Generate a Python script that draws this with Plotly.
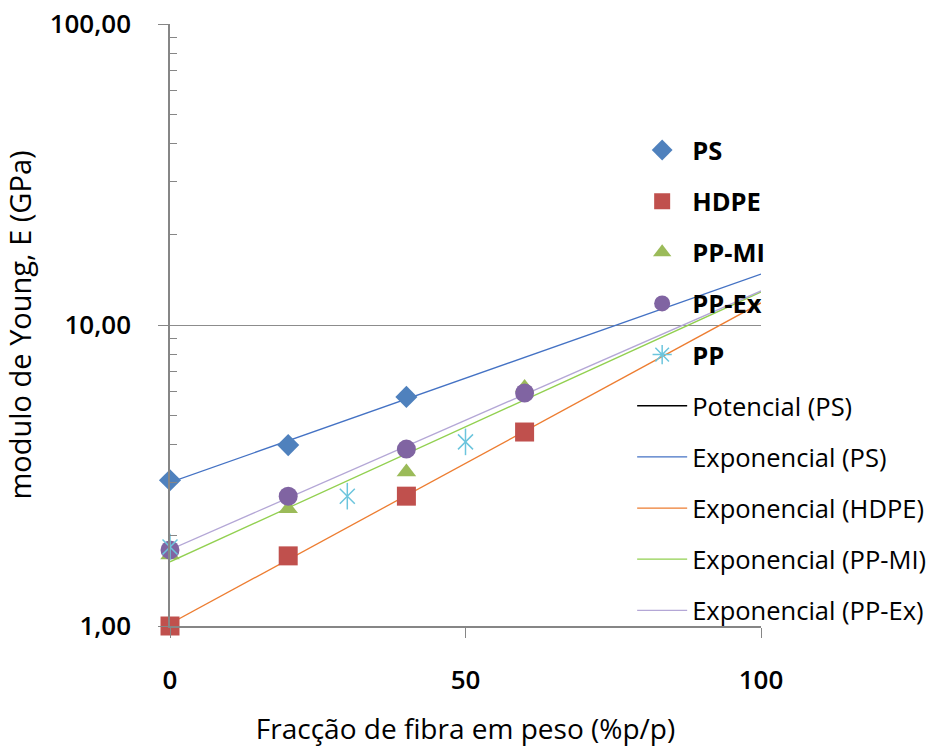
import numpy as np
import plotly.graph_objects as go

# ---- data ----
x_ps = [0, 20, 40]
ps = [3.05, 3.99, 5.77]
x_hdpe = [0, 20, 40, 60]
hdpe = [1.00, 1.71, 2.70, 4.41]
x_ppmi = [0, 20, 40, 60]
ppmi = [1.72, 2.45, 3.25, 6.2]
x_ppex = [0, 20, 40, 60]
ppex = [1.79, 2.70, 3.87, 5.94]
x_pp = [0, 30, 50]
pp = [1.83, 2.70, 4.09]

y_tickvals = [1, 10, 100]
y_ticktext = ["1,00", "10,00", "100,00"]
x_tickvals = [0, 50, 100]
x_ticktext = ["0", "50", "100"]

FONT = "Open Sans"
fig = go.Figure()

def expfit(xs, ys):
    b, a = np.polyfit(np.array(xs, float), np.log(np.array(ys, float)), 1)
    xx = np.linspace(0, 100, 101)
    return xx, np.exp(a + b * xx)

# trend lines (drawn first, below markers)
fig.add_trace(go.Scatter(x=[None], y=[None], mode="lines", name="Potencial (PS)",
                         legendgroup="f", legendrank=6,
                         line=dict(color="black", width=1.3)))
rank = 7
for nm, xs, ys, col, g in [("Exponencial (PS)", x_ps, ps, "#4472C4", "g"),
                           ("Exponencial (HDPE)", x_hdpe, hdpe, "#ED7D31", "h"),
                           ("Exponencial (PP-MI)", x_ppmi, ppmi, "#92D050", "i"),
                           ("Exponencial (PP-Ex)", x_ppex, ppex, "#B4A7D6", "j")]:
    xx, yy = expfit(xs, ys)
    fig.add_trace(go.Scatter(x=xx, y=yy, mode="lines", name=nm, legendgroup=g, legendrank=rank,
                             line=dict(color=col, width=1.3)))
    rank += 1

# marker series
fig.add_trace(go.Scatter(x=x_ps, y=ps, mode="markers", name="<b>PS</b>", legendgroup="a",
                         legendrank=1, cliponaxis=False,
                         marker=dict(symbol="diamond", size=17, color="#4F81BD")))
fig.add_trace(go.Scatter(x=x_hdpe, y=hdpe, mode="markers", name="<b>HDPE</b>", legendgroup="b",
                         legendrank=2, cliponaxis=False,
                         marker=dict(symbol="square", size=19, color="#C0504D")))
fig.add_trace(go.Scatter(x=x_ppmi, y=ppmi, mode="markers", name="<b>PP-MI</b>", legendgroup="c",
                         legendrank=3, cliponaxis=False,
                         marker=dict(symbol="triangle-up", size=17, color="#9BBB59")))
fig.add_trace(go.Scatter(x=x_ppex, y=ppex, mode="markers", name="<b>PP-Ex</b>", legendgroup="d",
                         legendrank=4, cliponaxis=False,
                         marker=dict(symbol="circle", size=19, color="#8064A2")))
fig.add_trace(go.Scatter(x=x_pp, y=pp, mode="markers", showlegend=False, legendgroup="e",
                         cliponaxis=False,
                         marker=dict(symbol="x-thin-open", size=15,
                                     line=dict(color="#6CC5DD", width=1.5), color="#6CC5DD")))
fig.add_trace(go.Scatter(x=x_pp, y=pp, mode="markers", showlegend=False, legendgroup="e",
                         cliponaxis=False,
                         marker=dict(symbol="line-ns-open", size=19,
                                     line=dict(color="#6CC5DD", width=1.5), color="#6CC5DD")))
fig.add_trace(go.Scatter(x=[None], y=[None], mode="markers", name="<b>PP</b>", legendgroup="e",
                         legendrank=5,
                         marker=dict(symbol="asterisk-open", size=16,
                                     line=dict(color="#6CC5DD", width=1.5), color="#6CC5DD")))

fig.update_layout(
    width=936, height=751,
    margin=dict(l=170, r=175, t=24, b=125, autoexpand=False),
    paper_bgcolor="white", plot_bgcolor="white",
    font=dict(family=FONT, size=24, color="black"),
    legend=dict(x=0.782, y=0.829, xanchor="left", yanchor="top",
                bgcolor="rgba(0,0,0,0)", traceorder="grouped", tracegroupgap=15,
                itemwidth=50, font=dict(family=FONT, size=25.5)),
    showlegend=True,
)
fig.update_xaxes(range=[0, 100], tickvals=x_tickvals, ticktext=x_ticktext,
                 showline=True, linecolor="#868686", linewidth=1.5,
                 ticks="outside", ticklen=10, tickcolor="#868686", ticklabelstandoff=20,
                 showgrid=False, zeroline=False, automargin=False,
                 tickfont=dict(family=FONT, size=26, weight=600),
                 title=dict(text="Fracção de fibra em peso (%p/p)", standoff=23,
                            font=dict(family=FONT, size=28)))
fig.update_yaxes(type="log", range=[0, 2], tickvals=y_tickvals, ticktext=y_ticktext,
                 showline=True, linecolor="#868686", linewidth=1.5,
                 ticks="outside", ticklen=10, tickcolor="#868686", ticklabelstandoff=22,
                 showgrid=True, gridcolor="#8C8C8C", gridwidth=1.2, zeroline=False,
                 automargin=True,
                 minor=dict(ticks="inside", ticklen=7, tickcolor="#868686",
                            tickvals=[2, 3, 4, 5, 6, 7, 8, 9, 20, 30, 40, 50, 60, 70, 80, 90],
                            showgrid=False),
                 tickfont=dict(family=FONT, size=26, weight=600),
                 title=dict(text="modulo de Young, E (GPa)", standoff=12,
                            font=dict(family=FONT, size=29)))

fig.write_html("out.html", config={"displayModeBar": False},
               post_script="document.body.style.margin='0';")
